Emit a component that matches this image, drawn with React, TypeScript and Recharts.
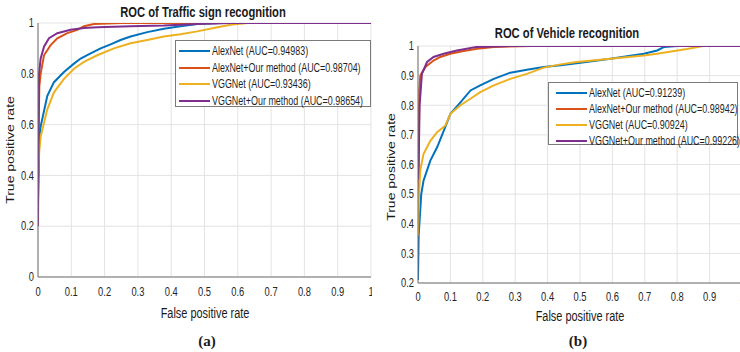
import React from 'react';
import { LineChart, Line, XAxis, YAxis, CartesianGrid } from 'recharts';

const FONT = '"Liberation Sans", Arial, sans-serif';
const SERIF = '"Liberation Serif", "Times New Roman", serif';

const COLORS = ['#0072BD', '#D95319', '#EDB120', '#7E2F8E'];

// (a) traffic sign recognition, [FPR, TPR]
const trafficAlexNet: [number, number][] = [
  [0, 0.3], [0.004, 0.55], [0.008, 0.593], [0.028, 0.713], [0.048, 0.767], [0.078, 0.807],
  [0.108, 0.84], [0.128, 0.86], [0.158, 0.88], [0.188, 0.9], [0.218, 0.916], [0.248, 0.933],
  [0.278, 0.947], [0.328, 0.964], [0.378, 0.977], [0.428, 0.987], [0.478, 0.996], [0.55, 1], [1, 1],
];
const trafficAlexNetOurs: [number, number][] = [
  [0, 0.46], [0.004, 0.75], [0.008, 0.8], [0.018, 0.873], [0.038, 0.913], [0.058, 0.94],
  [0.088, 0.96], [0.118, 0.973], [0.138, 0.987], [0.168, 0.996], [0.25, 1], [1, 1],
];
const trafficVGGNet: [number, number][] = [
  [0, 0.4], [0.004, 0.5], [0.008, 0.553], [0.028, 0.66], [0.048, 0.727], [0.078, 0.78],
  [0.108, 0.82], [0.138, 0.847], [0.178, 0.873], [0.228, 0.9], [0.278, 0.92], [0.328, 0.933],
  [0.378, 0.947], [0.428, 0.956], [0.478, 0.967], [0.528, 0.98], [0.578, 0.993], [0.63, 1], [1, 1],
];
const trafficVGGNetOurs: [number, number][] = [
  [0, 0.2], [0.003, 0.8], [0.008, 0.86], [0.018, 0.907], [0.033, 0.94], [0.058, 0.96],
  [0.098, 0.973], [0.138, 0.98], [0.178, 0.983], [0.278, 0.987], [0.378, 0.99], [0.478, 0.996],
  [0.578, 1], [1, 1],
];

// (b) vehicle recognition, [FPR, TPR]
const vehicleAlexNet: [number, number][] = [
  [0, 0.21], [0.002, 0.36], [0.01, 0.5], [0.017, 0.545], [0.038, 0.613], [0.059, 0.658],
  [0.084, 0.726], [0.1, 0.771], [0.131, 0.81], [0.162, 0.85], [0.192, 0.867], [0.234, 0.889],
  [0.285, 0.91], [0.336, 0.92], [0.388, 0.929], [0.44, 0.935], [0.49, 0.942], [0.594, 0.957],
  [0.697, 0.974], [0.738, 0.985], [0.76, 0.997], [0.8, 1], [1, 1],
];
const vehicleAlexNetOurs: [number, number][] = [
  [0, 0.5], [0.002, 0.6], [0.004, 0.85], [0.007, 0.9], [0.023, 0.929], [0.048, 0.951],
  [0.069, 0.963], [0.1, 0.974], [0.141, 0.983], [0.182, 0.991], [0.234, 0.997], [0.35, 1], [1, 1],
];
const vehicleVGGNet: [number, number][] = [
  [0, 0.36], [0.003, 0.5], [0.007, 0.58], [0.017, 0.635], [0.038, 0.68], [0.059, 0.709],
  [0.084, 0.731], [0.1, 0.771], [0.131, 0.8], [0.162, 0.822], [0.192, 0.844], [0.234, 0.867],
  [0.285, 0.889], [0.336, 0.906], [0.388, 0.927], [0.44, 0.938], [0.49, 0.946], [0.594, 0.957],
  [0.697, 0.968], [0.738, 0.974], [0.83, 0.99], [0.88, 1], [1, 1],
];
const vehicleVGGNetOurs: [number, number][] = [
  [0, 0.55], [0.002, 0.6], [0.005, 0.8], [0.012, 0.906], [0.028, 0.946], [0.048, 0.963],
  [0.079, 0.974], [0.12, 0.985], [0.182, 0.997], [0.285, 1], [1, 1],
];

const trafficLabels = [
  'AlexNet (AUC=0.94983)',
  'AlexNet+Our method (AUC=0.98704)',
  'VGGNet (AUC=0.93436)',
  'VGGNet+Our method (AUC=0.98654)',
];
const vehicleLabels = [
  'AlexNet (AUC=0.91239)',
  'AlexNet+Our method (AUC=0.98942)',
  'VGGNet (AUC=0.90924)',
  'VGGNet+Our method (AUC=0.99226)',
];

const xTicks = [0, 0.1, 0.2, 0.3, 0.4, 0.5, 0.6, 0.7, 0.8, 0.9, 1];
const trafficYTicks = [0, 0.2, 0.4, 0.6, 0.8, 1];
const vehicleYTicks = [0.2, 0.3, 0.4, 0.5, 0.6, 0.7, 0.8, 0.9, 1];

const toPoints = (arr: [number, number][]) => arr.map(([x, y]) => ({ x, y }));
const fmt = (v: number) => String(Math.round(v * 10) / 10);

const XTick = (props: any) => {
  const { x, y, payload } = props;
  return (
    <text
      transform={`translate(${x},${y}) scale(0.78,1)`}
      textAnchor="middle"
      dy="0.71em"
      fontSize={12}
      fill="#262626"
      fontFamily={FONT}
    >
      {fmt(payload.value)}
    </text>
  );
};

const YTick = (props: any) => {
  const { x, y, payload } = props;
  return (
    <text
      transform={`translate(${x},${y}) scale(0.78,1)`}
      textAnchor="end"
      dy="0.355em"
      fontSize={12}
      fill="#262626"
      fontFamily={FONT}
    >
      {fmt(payload.value)}
    </text>
  );
};

const Txt = ({ x, y, text, size = 14, bold = false, rotate = false, scale = 0.78, family = FONT }: any) => (
  <div
    style={{
      position: 'absolute',
      left: x,
      top: y,
      whiteSpace: 'nowrap',
      fontFamily: family,
      fontSize: size,
      fontWeight: bold ? 'bold' : 'normal',
      color: '#1a1a1a',
      lineHeight: 1,
      transform: rotate
        ? `translate(-50%,-50%) rotate(-90deg) scaleY(${scale})`
        : `translate(-50%,-50%) scaleX(${scale})`,
    }}
  >
    {text}
  </div>
);

const Legend = ({ left, top, width, height, labels, firstRow, rowGap, lineLeft }: any) => (
  <div
    style={{
      position: 'absolute',
      left,
      top,
      width,
      height,
      boxSizing: 'border-box',
      border: '1px solid #7a7a7a',
      background: '#fff',
    }}
  >
    {labels.map((label: string, i: number) => (
      <div key={label} style={{ position: 'absolute', left: lineLeft, top: firstRow + i * rowGap - 1 }}>
        <div style={{ position: 'absolute', left: 0, top: 0, width: 31, height: 2, background: COLORS[i] }} />
        <div
          style={{
            position: 'absolute',
            left: 33,
            top: -6,
            whiteSpace: 'nowrap',
            fontFamily: FONT,
            fontSize: 12,
            lineHeight: '14px',
            color: '#1f1f1f',
            transform: 'scaleX(0.745)',
            transformOrigin: 'left center',
          }}
        >
          {label}
        </div>
      </div>
    ))}
  </div>
);

const series = (data: [number, number][][]) =>
  data.map((d, i) => (
    <Line
      key={i}
      data={toPoints(d)}
      dataKey="y"
      type="linear"
      stroke={COLORS[i]}
      strokeWidth={2}
      dot={false}
      activeDot={false}
      isAnimationActive={false}
    />
  ));

export default function App() {
  return (
    <div style={{ position: 'absolute', left: 0, top: 0, width: 740, height: 352, background: '#fff', overflow: 'hidden' }}>
      <div style={{ position: 'absolute', left: 0, top: 0, width: 372, height: 352, overflow: 'hidden' }}>
        <LineChart width={380} height={352} margin={{ top: 23, right: 9, bottom: 45, left: 0 }}>
          <CartesianGrid stroke="#e3e3e3" />
          <XAxis
            type="number"
            dataKey="x"
            domain={[0, 1]}
            ticks={xTicks}
            interval={0}
            allowDataOverflow
            height={30}
            tick={XTick}
            tickLine={false}
            tickSize={0}
            tickMargin={10}
            axisLine={{ stroke: '#707070' }}
          />
          <YAxis
            type="number"
            domain={[0, 1]}
            ticks={trafficYTicks}
            interval={0}
            allowDataOverflow
            width={38}
            tick={YTick}
            tickLine={false}
            tickSize={0}
            tickMargin={4}
            axisLine={{ stroke: '#707070' }}
          />
          {series([trafficAlexNet, trafficAlexNetOurs, trafficVGGNet, trafficVGGNetOurs])}
        </LineChart>
      </div>
      <div style={{ position: 'absolute', left: 372, top: 0, width: 368, height: 352, overflow: 'hidden' }}>
        <LineChart width={375} height={352} margin={{ top: 46, right: 5, bottom: 39, left: 0 }}>
          <CartesianGrid stroke="#e3e3e3" />
          <XAxis
            type="number"
            dataKey="x"
            domain={[0, 1]}
            ticks={xTicks}
            interval={0}
            allowDataOverflow
            height={30}
            tick={XTick}
            tickLine={false}
            tickSize={0}
            tickMargin={9}
            axisLine={{ stroke: '#707070' }}
          />
          <YAxis
            type="number"
            domain={[0.2, 1]}
            ticks={vehicleYTicks}
            interval={0}
            allowDataOverflow
            width={46}
            tick={YTick}
            tickLine={false}
            tickSize={0}
            tickMargin={4}
            axisLine={{ stroke: '#707070' }}
          />
          {series([vehicleAlexNet, vehicleAlexNetOurs, vehicleVGGNet, vehicleVGGNetOurs])}
        </LineChart>
      </div>

      <Txt x={203} y={12} text="ROC of Traffic sign recognition" bold scale={0.8} />
      <Txt x={567} y={33} text="ROC of Vehicle recognition" bold scale={0.8} />
      <Txt x={10} y={150} text="True positive rate" rotate />
      <Txt x={391} y={167} text="True positive rate" rotate />
      <Txt x={205} y={313} text="False positive rate" />
      <Txt x={580} y={316} text="False positive rate" />
      <Txt x={207} y={341} text="(a)" bold size={15} scale={1} family={SERIF} />
      <Txt x={578} y={341} text="(b)" bold size={15} scale={1} family={SERIF} />

      <Legend left={175} top={40} width={196} height={67} labels={trafficLabels} firstRow={10} rowGap={16.6} lineLeft={3} />
      <Legend left={548} top={82} width={190} height={63} labels={vehicleLabels} firstRow={10} rowGap={16} lineLeft={7} />
    </div>
  );
}
